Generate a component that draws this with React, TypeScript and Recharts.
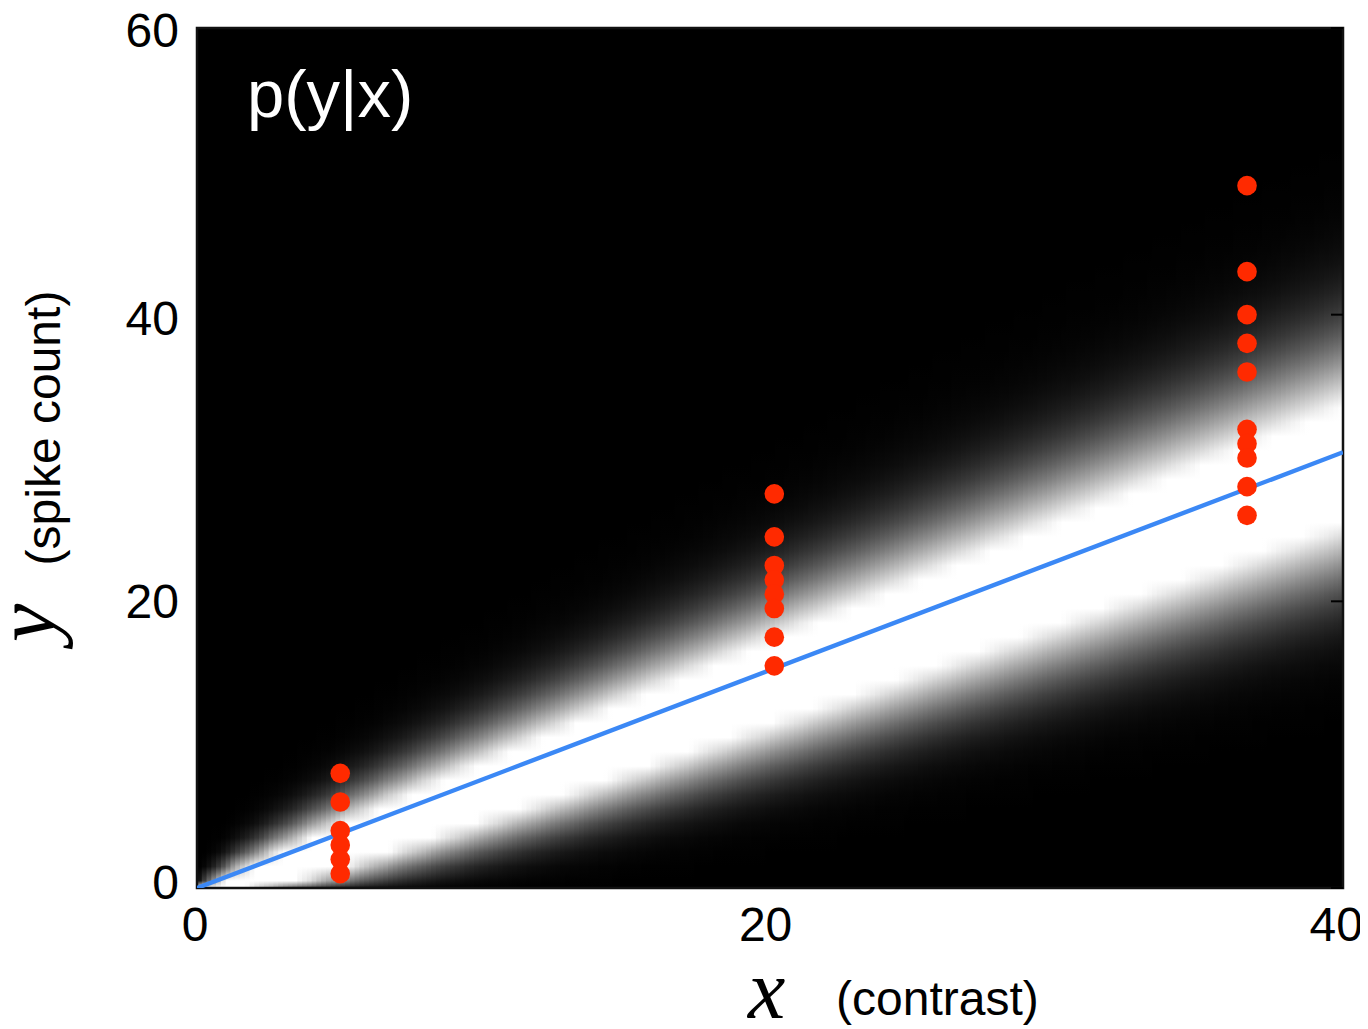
import React from "react";
import {
  ComposedChart,
  XAxis,
  YAxis,
  Scatter,
  Line,
  ReferenceArea,
  Customized,
} from "recharts";

// ---- data ----
const X_TICKS = [0, 20, 40];
const Y_TICKS = [0, 20, 40, 60];
const X_DOMAIN = [0, 40];
const Y_DOMAIN = [0, 60];

// trial spike counts at three contrasts
const CONTRASTS = [5.0, 20.15, 36.65];
const COUNTS_LOW = [8, 6, 4, 3, 2, 1];
const COUNTS_MID = [27.5, 24.5, 22.5, 21.5, 20.5, 19.5, 17.5, 15.5];
const COUNTS_HIGH = [49, 43, 40, 38, 36, 32, 31, 30, 28, 26];

// fitted mean line
const LINE_X = [0, 40];
const LINE_Y = [0, 30.4];

// heat map model p(y|x): Poisson with mean = slope * x
const HEAT_COLUMNS = 240;
const MAX_COUNT = 61;

const W = 1360;
const H = 1021;

const points = [
  ...COUNTS_LOW.map((y) => ({ x: CONTRASTS[0], y })),
  ...COUNTS_MID.map((y) => ({ x: CONTRASTS[1], y })),
  ...COUNTS_HIGH.map((y) => ({ x: CONTRASTS[2], y })),
];
const lineData = LINE_X.map((x, i) => ({ x, y: LINE_Y[i] }));
const slope = LINE_Y[1] / LINE_X[1];

const logFact: number[] = [0];
for (let k = 1; k <= MAX_COUNT + 1; k++) logFact[k] = logFact[k - 1] + Math.log(k);

const dx = (X_DOMAIN[1] - X_DOMAIN[0]) / HEAT_COLUMNS;
const columns = Array.from({ length: HEAT_COLUMNS }, (_, i) => {
  const xc = (i + 0.5) * dx;
  const lam = slope * xc;
  const lp: number[] = [];
  for (let k = 0; k <= MAX_COUNT; k++) lp.push(k * Math.log(lam) - lam - logFact[k]);
  const m = Math.max(...lp);
  const stops: { off: number; g: number }[] = [];
  for (let k = MAX_COUNT; k >= 0; k--) {
    const b = Math.min(1, 1.3 * Math.exp(lp[k] - m));
    const yv = k - 0.5;
    const off = Math.max(0, Math.min(1, (Y_DOMAIN[1] - yv) / (Y_DOMAIN[1] - Y_DOMAIN[0])));
    stops.push({ off, g: Math.round(b * 255) });
  }
  return {
    x1: i * dx,
    x2: Math.min(X_DOMAIN[1], (i + 1.6) * dx),
    stops,
  };
});

const FONT = "'Liberation Sans', Arial, Helvetica, sans-serif";
const SERIF = "'Liberation Serif', 'Times New Roman', serif";

const XTick = (props: any) => {
  const { x, y, payload } = props;
  const shift = -2 - payload.value * 0.12;
  return (
    <text x={x + shift} y={y} dy="0.71em" textAnchor="middle" fontFamily={FONT} fontSize={48} fill="#000">
      {payload.value}
    </text>
  );
};

const YTick = (props: any) => {
  const { x, y, payload } = props;
  const shift = payload.value === 0 ? -6 : payload.value === 40 ? 3 : payload.value === 60 ? 2 : 0;
  return (
    <text x={x} y={y + shift} dy="0.355em" textAnchor="end" fontFamily={FONT} fontSize={48} fill="#000">
      {payload.value}
    </text>
  );
};

const EmptyTick = () => <g />;

const Dot = (props: any) => {
  const { cx, cy } = props;
  return <circle cx={cx} cy={cy} r={9.8} fill="#ff2a00" />;
};

const Texts = () => (
  <g>
    <text x={740} y={1010} fontFamily={SERIF} fontStyle="italic" fontSize={84} fill="#000">
      x
    </text>
    <text x={828} y={1007} fontFamily={FONT} fontSize={48} fill="#000">
      (contrast)
    </text>
    <text
      x={52}
      y={420}
      transform="rotate(-90 52 420)"
      textAnchor="middle"
      fontFamily={FONT}
      fontSize={48}
      fill="#000"
    >
      (spike count)
    </text>
    <text
      x={46}
      y={615}
      transform="rotate(-90 46 615)"
      textAnchor="middle"
      fontFamily={SERIF}
      fontStyle="italic"
      fontSize={86}
      fill="#000"
    >
      y
    </text>
  </g>
);

export default function App() {
  return (
    <div style={{ position: "relative", width: W, height: H }}>
      <ComposedChart width={W} height={H} margin={{ top: 20, right: 25, bottom: 0, left: 0 }}>
        <defs>
          {columns.map((c, i) => (
            <linearGradient key={i} id={`hm${i}`} x1="0" y1="0" x2="0" y2="1">
              {c.stops.map((s, j) => (
                <stop key={j} offset={s.off} stopColor={`rgb(${s.g},${s.g},${s.g})`} />
              ))}
            </linearGradient>
          ))}
        </defs>
        <XAxis
          dataKey="x"
          type="number"
          domain={X_DOMAIN}
          ticks={X_TICKS}
          height={141}
          tickSize={0}
          tickMargin={19}
          tickLine={false}
          axisLine={false}
          tick={<XTick />}
          allowDataOverflow
        />
        <YAxis
          dataKey="y"
          type="number"
          domain={Y_DOMAIN}
          ticks={Y_TICKS}
          width={189}
          tickSize={0}
          tickMargin={18}
          tickLine={false}
          axisLine={false}
          tick={<YTick />}
          allowDataOverflow
        />
        <YAxis
          yAxisId="right"
          orientation="right"
          type="number"
          domain={Y_DOMAIN}
          ticks={Y_TICKS}
          width={25}
          mirror
          tickSize={12}
          tickLine={{ stroke: "#000", strokeWidth: 2 }}
          axisLine={false}
          tick={<EmptyTick />}
          allowDataOverflow
        />
        <ReferenceArea x1={0} x2={40} y1={0} y2={60} fill="#000" fillOpacity={1} stroke="none" />
        {columns.map((c, i) => (
          <ReferenceArea
            key={`c${i}`}
            x1={c.x1}
            x2={c.x2}
            y1={0}
            y2={60}
            fill={`url(#hm${i})`}
            fillOpacity={1}
            stroke="none"
          />
        ))}
        <ReferenceArea x1={0} x2={40} y1={0} y2={60} fill="none" fillOpacity={0} stroke="#111" strokeWidth={2.5} />
        <Line
          data={lineData}
          dataKey="y"
          stroke="#3b88f5"
          strokeWidth={4.4}
          dot={false}
          isAnimationActive={false}
        />
        <Scatter data={points} dataKey="y" shape={<Dot />} isAnimationActive={false} />
        <Customized component={Texts} />
      </ComposedChart>
      <svg
        width={W}
        height={H}
        style={{ position: "absolute", left: 0, top: 0, pointerEvents: "none" }}
      >
        <text x={239} y={109} fontFamily={FONT} fontSize={67} fill="#fff">
          p(y|x)
        </text>
      </svg>
    </div>
  );
}
